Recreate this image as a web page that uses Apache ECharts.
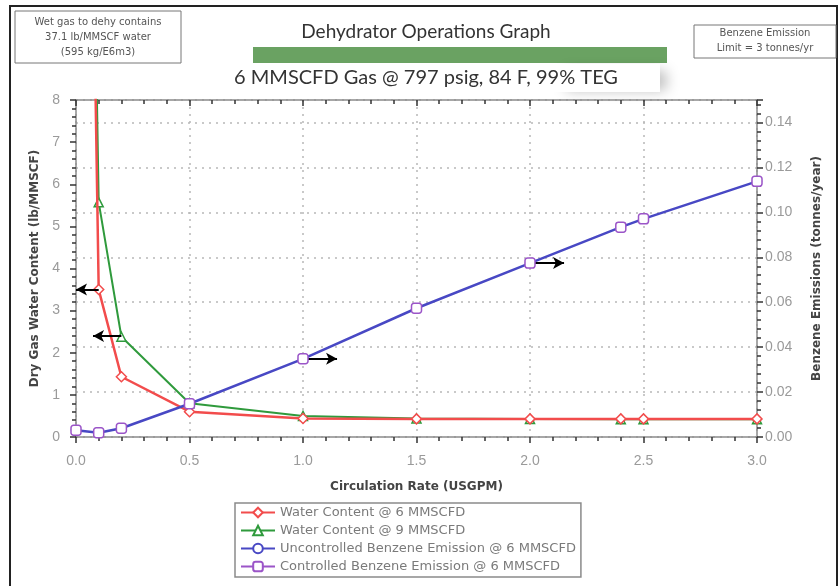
<!DOCTYPE html>
<html>
<head>
<meta charset="utf-8">
<script src="https://cdn.jsdelivr.net/npm/echarts@6/dist/echarts.min.js"></script>
<style>html,body{margin:0;padding:0;background:#fff;}#chart{width:840px;height:586px;}</style>
</head>
<body>
<div id="chart"></div>
<script>
// ---- data ----
const waterX = [0, 0.1, 0.2, 0.5, 1.0, 1.5, 2.0, 2.4, 2.5, 3.0];
const water6 = [37.1, 3.5, 1.43, 0.6, 0.44, 0.43, 0.43, 0.43, 0.43, 0.43];
const water9 = [37.1, 5.57, 2.38, 0.8, 0.5, 0.44, 0.43, 0.42, 0.42, 0.42];
const benzX = [0, 0.1, 0.2, 0.5, 1.0, 1.5, 2.0, 2.4, 2.5, 3.0];
const benzUncontrolled = [0.003, 0.0019, 0.0039, 0.0148, 0.0348, 0.0573, 0.0774, 0.0934, 0.0971, 0.1138];
const benzControlled = [0.003, 0.0019, 0.0039, 0.0148, 0.0348, 0.0573, 0.0774, 0.0934, 0.0971, 0.1138];
const seriesNames = ['Water Content @ 6 MMSCFD', 'Water Content @ 9 MMSCFD',
  'Uncontrolled Benzene Emission @ 6 MMSCFD', 'Controlled Benzene Emission @ 6 MMSCFD'];
// arrow annotations: [fromX, fromY, toX, toY]
const arrowsLeft = [[0.1, 3.5, 0.0, 3.5], [0.2, 2.4, 0.075, 2.4]];
const arrowsRight = [[1.0, 0.0348, 1.15, 0.0348], [2.0, 0.0774, 2.15, 0.0774]];

const zip = (xs, ys) => xs.map((x, i) => [x, ys[i]]);
const arrowLines = arr => arr.map(a => [{coord: [a[0], a[1]]}, {coord: [a[2], a[3]]}]);

const AX = '#8a8a8a', TK = '#333', LBL = '#9a9a9a';
const labelFont = {color: LBL, fontSize: 14, fontFamily: 'Liberation Sans'};
const nameFont = {fontWeight: 'bold', fontSize: 12, color: '#444', fontFamily: 'DejaVu Sans'};
const dotted = {type: [2, 5], color: '#b8b8b8', width: 1.5};
const tick = inside => ({show: true, inside: inside, length: 6, lineStyle: {color: TK, width: 1.5}});
const minor = () => ({show: true, splitNumber: 5, length: 4, lineStyle: {color: TK, width: 1.5}});
const line = () => ({show: true, onZero: false, lineStyle: {color: AX, width: 1.5}});

// axis order: index 0 = top / right, index 1 = bottom / left
const X = 1, YL = 1, YR = 0;

const markArrow = arr => ({
  silent: true, symbol: ['none', 'arrow'], symbolSize: [9, 11],
  label: {show: false}, lineStyle: {color: '#000', width: 2, type: 'solid'},
  emphasis: {disabled: true}, data: arrowLines(arr)
});

const chart = echarts.init(document.getElementById('chart'));
chart.setOption({
  animation: false,
  backgroundColor: '#fff',
  grid: {left: 76, right: 83, top: 100, bottom: 149},
  xAxis: [
    {type: 'value', position: 'top', min: 0, max: 3, interval: 0.5,
      axisLine: line(), axisTick: tick(true), minorTick: minor(),
      axisLabel: {show: false}, splitLine: {show: false}},
    {type: 'value', position: 'bottom', min: 0, max: 3, interval: 0.5,
      axisLine: line(), axisTick: tick(false), minorTick: minor(),
      axisLabel: Object.assign({show: true, margin: 17, formatter: v => v.toFixed(1)}, labelFont),
      splitLine: {show: true, lineStyle: dotted},
      name: 'Circulation Rate (USGPM)', nameLocation: 'middle', nameGap: 44, nameTextStyle: nameFont}
  ],
  yAxis: [
    {type: 'value', position: 'right', min: 0, max: 0.15, interval: 0.02,
      axisLine: line(), axisTick: tick(false), minorTick: minor(),
      axisLabel: Object.assign({show: true, margin: 8, formatter: v => v > 0.145 ? '' : v.toFixed(2)}, labelFont),
      splitLine: {show: true, lineStyle: dotted},
      name: 'Benzene Emissions (tonnes/year)', nameLocation: 'middle', nameGap: 54, nameTextStyle: nameFont},
    {type: 'value', position: 'left', min: 0, max: 8, interval: 1,
      axisLine: line(), axisTick: tick(false), minorTick: minor(),
      axisLabel: Object.assign({show: true, margin: 16}, labelFont),
      splitLine: {show: false},
      name: 'Dry Gas Water Content (lb/MMSCF)', nameLocation: 'middle', nameGap: 34, nameTextStyle: nameFont}
  ],
  legend: {
    orient: 'vertical', left: 235, top: 503, itemWidth: 34, itemHeight: 12, itemGap: 5,
    padding: [3, 5, 4, 5], borderColor: '#8a8a8a', borderWidth: 1.5,
    textStyle: {color: '#7a7a7a', fontSize: 13, fontFamily: 'DejaVu Sans'},
    data: [
      {name: seriesNames[0]}, {name: seriesNames[1]}, {name: seriesNames[2]},
      {name: seriesNames[3], lineStyle: {color: '#9b55c8', width: 2, opacity: 1}}
    ]
  },
  series: [
    {name: seriesNames[1], type: 'line', xAxisIndex: X, yAxisIndex: YL, z: 3,
      data: zip(waterX, water9), symbol: 'triangle', symbolSize: 9, clip: true,
      lineStyle: {color: '#2f9a3c', width: 2}, itemStyle: {color: '#fff', borderColor: '#2f9a3c', borderWidth: 1.5},
      markLine: markArrow(arrowsLeft.slice(1))},
    {name: seriesNames[0], type: 'line', xAxisIndex: X, yAxisIndex: YL, z: 4,
      data: zip(waterX, water6), symbol: 'diamond', symbolSize: 10, clip: true,
      lineStyle: {color: '#f24c4c', width: 2.5}, itemStyle: {color: '#fff', borderColor: '#f24c4c', borderWidth: 1.5},
      markLine: markArrow(arrowsLeft.slice(0, 1))},
    {name: seriesNames[2], type: 'line', xAxisIndex: X, yAxisIndex: YR, z: 5,
      data: zip(benzX, benzUncontrolled), symbol: 'circle', symbolSize: 9, clip: true,
      lineStyle: {color: '#4848c4', width: 2.5}, itemStyle: {color: '#fff', borderColor: '#4848c4', borderWidth: 1.5},
      markLine: markArrow(arrowsRight)},
    {name: seriesNames[3], type: 'line', xAxisIndex: X, yAxisIndex: YR, z: 6,
      data: zip(benzX, benzControlled), symbol: 'roundRect', symbolSize: 10, clip: true,
      lineStyle: {color: '#9b55c8', width: 2, opacity: 0}, itemStyle: {color: '#fff', borderColor: '#9b55c8', borderWidth: 1.5}}
  ],
  graphic: [
    {type: 'rect', silent: true, z: -1, shape: {x: 10, y: 6, width: 827, height: 620},
      style: {fill: 'none', stroke: '#222', lineWidth: 2}},
    {type: 'rect', silent: true, shape: {x: 15, y: 11, width: 166, height: 52},
      style: {fill: '#fff', stroke: '#777', lineWidth: 1}},
    {type: 'text', silent: true, style: {x: 98, y: 37, text: 'Wet gas to dehy contains\n37.1 lb/MMSCF water\n(595 kg/E6m3)',
      align: 'center', verticalAlign: 'middle', lineHeight: 15, fontSize: 10, fontFamily: 'DejaVu Sans', fill: '#555'}},
    {type: 'rect', silent: true, shape: {x: 694, y: 25, width: 142, height: 33},
      style: {fill: '#fff', stroke: '#777', lineWidth: 1}},
    {type: 'text', silent: true, style: {x: 765, y: 41, text: 'Benzene Emission\nLimit = 3 tonnes/yr',
      align: 'center', verticalAlign: 'middle', lineHeight: 15, fontSize: 10, fontFamily: 'DejaVu Sans', fill: '#555'}},
    {type: 'text', silent: true, style: {x: 426, y: 32, text: 'Dehydrator Operations Graph',
      align: 'center', verticalAlign: 'middle', fontSize: 19, fontFamily: 'Lato', fill: '#333'}},
    {type: 'rect', silent: true, shape: {x: 253, y: 47, width: 414, height: 16},
      style: {fill: '#6aa262'}},
    {type: 'rect', silent: true, shape: {x: 560, y: 69, width: 100, height: 19},
      style: {fill: '#fff', shadowBlur: 14, shadowOffsetX: 6, shadowOffsetY: 2, shadowColor: 'rgba(0,0,0,0.28)'}},
    {type: 'rect', silent: true, shape: {x: 215, y: 64, width: 445, height: 28},
      style: {fill: '#fff'}},
    {type: 'text', silent: true, style: {x: 426, y: 78, text: '6 MMSCFD Gas @ 797 psig, 84 F, 99% TEG',
      align: 'center', verticalAlign: 'middle', fontSize: 20, fontFamily: 'Lato', fill: '#333'}}
  ]
});
</script>
</body>
</html>
